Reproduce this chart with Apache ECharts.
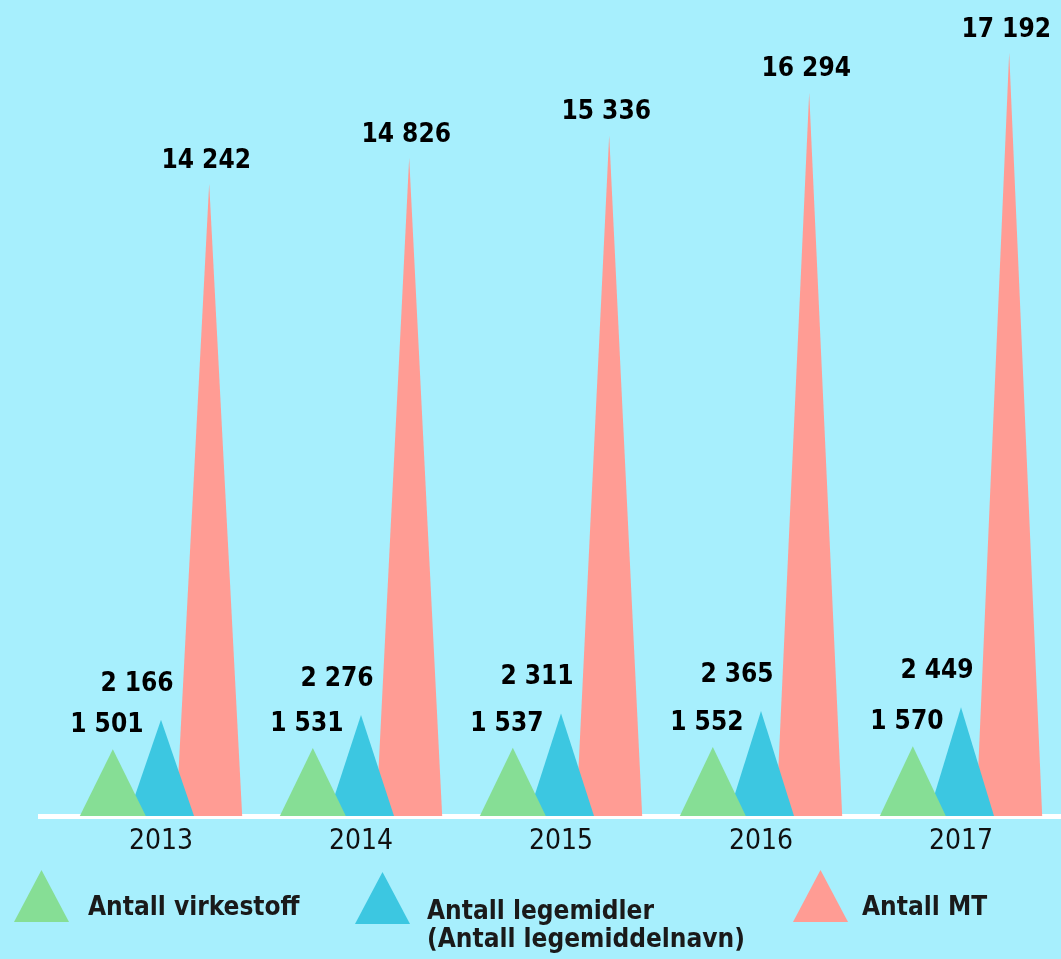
<!DOCTYPE html>
<html>
<head>
<meta charset="utf-8">
<script src="https://cdn.jsdelivr.net/npm/echarts@6/dist/echarts.min.js"></script>
<style>
html,body{margin:0;padding:0;background:#a7effd;}
#c{width:1061px;height:959px;}
</style>
</head>
<body>
<div id="c"></div>
<script>
const years = ['2013', '2014', '2015', '2016', '2017'];
const virkestoff = [1501, 1531, 1537, 1552, 1570];
const legemidler = [2166, 2276, 2311, 2365, 2449];
const mt = [14242, 14826, 15336, 16294, 17192];
const seriesNames = ['Antall virkestoff', 'Antall legemidler\n(Antall legemiddelnavn)', 'Antall MT'];

const FONT = '"DejaVu Sans Condensed", "Liberation Sans Narrow", sans-serif';
const colors = ['#86de95', '#3cc7e1', '#ff9c94'];
const fmt = v => String(v).replace(/\B(?=(\d{3})+(?!\d))/g, ' ');

const chart = echarts.init(document.getElementById('c'), null, {renderer: 'canvas'});

function mkSeries(name, data, color, offset, z) {
  return {
    type: 'pictorialBar',
    name: name,
    data: data,
    symbol: 'triangle',
    symbolSize: [66, '100%'],
    barWidth: 66,
    barGap: '-27%',
    z: z,
    itemStyle: {color: color},
    label: {
      show: true,
      position: 'top',
      offset: offset,
      formatter: p => fmt(p.value),
      fontFamily: FONT,
      fontWeight: 'bold',
      fontSize: 26,
      color: '#000'
    }
  };
}

// leading blank lines push the text block below the icon centre, as in the reference
function mkLegend(name, left, top, lead, lh, padLeft) {
  return {
    data: [name],
    left: left,
    top: top,
    padding: 0,
    itemWidth: 55,
    itemHeight: 52,
    icon: 'triangle',
    itemGap: 0,
    formatter: n => lead + n,
    textStyle: {
      fontFamily: FONT,
      fontWeight: 'bold',
      fontSize: 26,
      color: '#1a1a1a',
      lineHeight: lh,
      padding: [0, 0, 0, padLeft]
    }
  };
}

chart.setOption({
  backgroundColor: '#a7effd',
  animation: false,
  grid: {left: 61, width: 1005, top: 17, bottom: 143, containLabel: false},
  xAxis: {
    type: 'category',
    data: years,
    axisLine: {show: true, lineStyle: {color: '#ffffff', width: 5}},
    axisTick: {show: false},
    axisLabel: {fontFamily: FONT, fontSize: 28, color: '#111', margin: 12}
  },
  yAxis: {
    type: 'value',
    min: 0,
    max: 18000,
    show: false,
    splitLine: {show: false}
  },
  legend: [
    mkLegend(seriesNames[0], 14, 870, '\n', 24, 14),
    mkLegend(seriesNames[1], 355, 842, '\n\n', 28, 12),
    mkLegend(seriesNames[2], 793, 870, '\n', 24, 9)
  ],
  graphic: [{
    type: 'rect',
    shape: {x: 38, y: 814, width: 30, height: 5},
    style: {fill: '#ffffff'},
    z: 1
  }],
  series: [
    mkSeries(seriesNames[0], virkestoff, colors[0], [-6, -6], 4),
    mkSeries(seriesNames[1], legemidler, colors[1], [-24, -18], 3),
    mkSeries(seriesNames[2], mt, colors[2], [-3, -5], 2)
  ]
});
</script>
</body>
</html>
